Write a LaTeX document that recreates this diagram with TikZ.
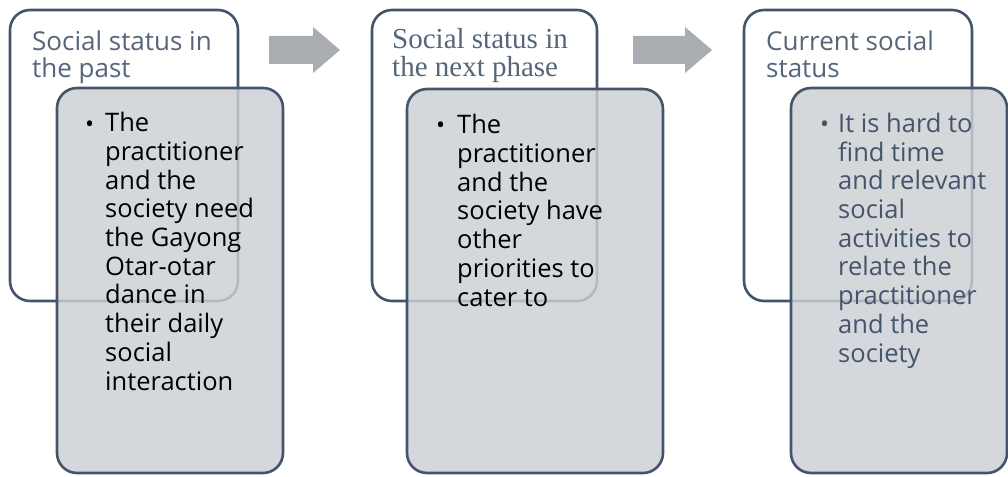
\documentclass[tikz,border=0pt]{standalone}
\usepackage{fontspec}
\setmainfont{Open Sans}
\newfontfamily\serifttl{Liberation Serif}
\definecolor{edge}{HTML}{44546A}
\definecolor{ttl}{HTML}{56667A}
\definecolor{cardgray}{HTML}{CBD0D4}
\definecolor{arrowgray}{HTML}{A9ACB1}
\begin{document}
\begin{tikzpicture}[x=1pt,y=-1pt,
  backcard/.style={draw=edge,line width=2.6pt,fill=white,rounded corners=20pt},
  frontcard/.style={draw=edge,line width=2.6pt,fill=cardgray,fill opacity=0.82,rounded corners=20pt},
  ttltext/.style={anchor=base west,inner sep=0pt,align=left,text=ttl,font=\fontsize{26}{28}\selectfont},
  bodytext/.style={anchor=base west,inner sep=0pt,align=left,font=\fontsize{25.5}{28.7}\selectfont},
  bul/.style={anchor=base west,inner sep=0pt,font=\fontsize{24}{29}\selectfont},
  flow/.style={fill=arrowgray,draw=none}]
\useasboundingbox (0,0) rectangle (1008,476);
% card 1
\draw[backcard] (10,10) rectangle (238,301);
\node[ttltext] (t1) at (32,78) {Social status in\\the past};
\draw[frontcard] (57,88) rectangle (283,473);
\node[bul] (b1) at (85,132) {•};
\node[bodytext] (d1) at (105,390) {The\\practitioner\\and the\\society need\\the Gayong\\Otar-otar\\dance in\\their daily\\social\\interaction};
% card 2
\draw[backcard] (372,10) rectangle (597,301);
\node[ttltext,font={\serifttl\fontsize{29}{28}\selectfont}] (t2) at (392,77) {Social status in\\the next phase};
\draw[frontcard] (407,89) rectangle (663,473);
\node[bul] (b2) at (436,133) {•};
\node[bodytext] (d2) at (457,306) {The\\practitioner\\and the\\society have\\other\\priorities to\\cater to};
% card 3
\draw[backcard] (744,10) rectangle (972,301);
\node[ttltext] (t3) at (766,78) {Current social\\status};
\draw[frontcard] (791,88) rectangle (1007,473);
\node[bul,text=edge] (b3) at (820,132) {•};
\node[bodytext,text=edge] (d3) at (838,362) {It is hard to\\find time\\and relevant\\social\\activities to\\relate the\\practitioner\\and the\\society};
% arrows
\fill[flow] (269,36) -- (313,36) -- (313,27) -- (340,50) -- (313,73) -- (313,64) -- (269,64) -- cycle;
\fill[flow] (633,36) -- (685,36) -- (685,27) -- (712,50) -- (685,73) -- (685,64) -- (633,64) -- cycle;
\end{tikzpicture}
\end{document}
